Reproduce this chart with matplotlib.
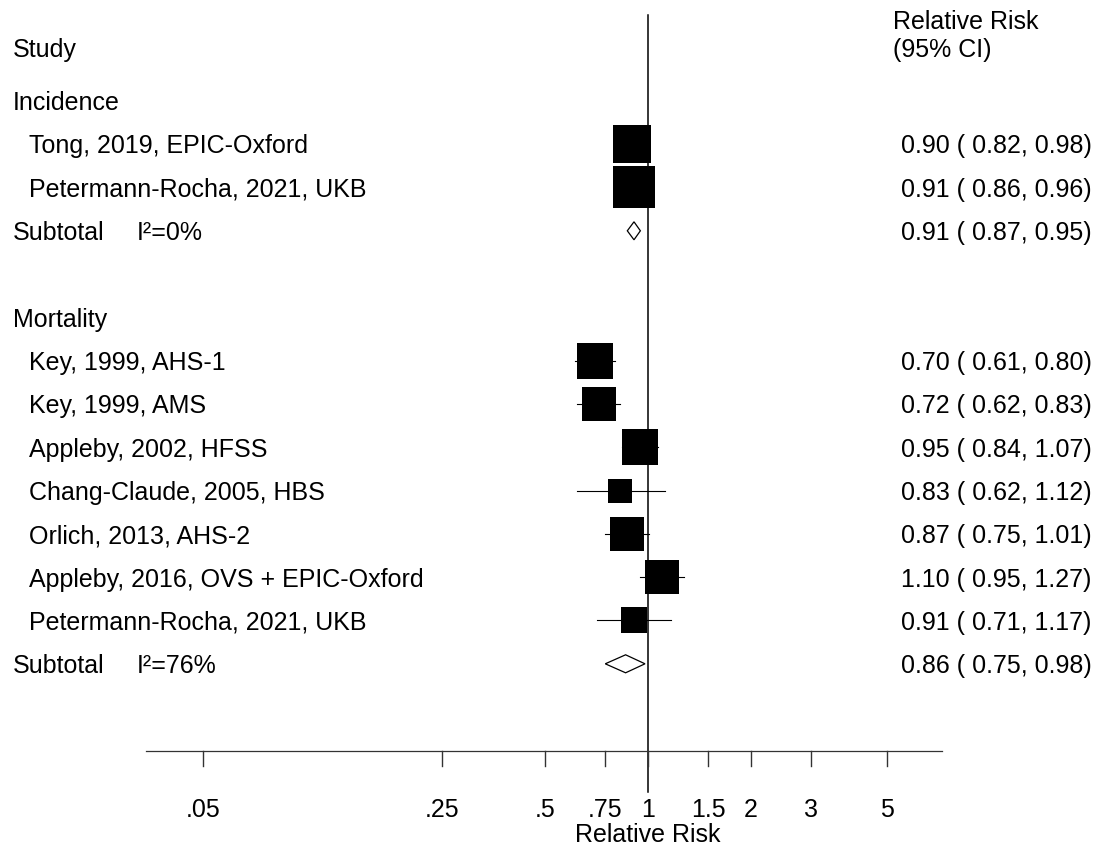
"""
Forest plot: relative risk by study, incidence and mortality subgroups.
"""
import numpy as np
import matplotlib.pyplot as plt

# ── data ───────────────────────────────────────────────────────────────────────
inc_studies = ["Tong, 2019, EPIC-Oxford", "Petermann-Rocha, 2021, UKB"]
inc_rr = [0.90, 0.91]
inc_lo = [0.82, 0.86]
inc_hi = [0.98, 0.96]
inc_w  = [88, 100]            # relative box area
inc_sub = (0.91, 0.87, 0.95)
inc_i2 = "0%"

mort_studies = ["Key, 1999, AHS-1", "Key, 1999, AMS", "Appleby, 2002, HFSS",
                "Chang-Claude, 2005, HBS", "Orlich, 2013, AHS-2",
                "Appleby, 2016, OVS + EPIC-Oxford", "Petermann-Rocha, 2021, UKB"]
mort_rr = [0.70, 0.72, 0.95, 0.83, 0.87, 1.10, 0.91]
mort_lo = [0.61, 0.62, 0.84, 0.62, 0.75, 0.95, 0.71]
mort_hi = [0.80, 0.83, 1.07, 1.12, 1.01, 1.27, 1.17]
mort_w  = [73, 69, 77, 32, 68, 71, 42]
mort_sub = (0.86, 0.75, 0.98)
mort_i2 = "76%"

tick_vals   = [0.05, 0.25, 0.5, 0.75, 1, 1.5, 2, 3, 5]
tick_labels = [".05", ".25", ".5", ".75", "1", "1.5", "2", "3", "5"]

# ── layout ─────────────────────────────────────────────────────────────────────
W, H, DPI = 1098, 850, 100
X_ONE, PX_DEC = 648.0, 342.0        # pixel of RR=1, pixels per decade
Y0, ROW = 100.9, 43.3               # pixel of row 0, pixels per row
MAX_BOX = 41.3                      # px side of largest box
FS = 18
BASE = 9.3 / ROW                    # baseline sits this far below row centre

plt.rcParams['font.family'] = ['Liberation Sans', 'DejaVu Sans']

fig = plt.figure(figsize=(W / DPI, H / DPI), dpi=DPI)
ax = fig.add_axes([0, 0, 1, 1])
ax.set_xscale('log')
ax.set_xlim(10 ** (-X_ONE / PX_DEC), 10 ** ((W - X_ONE) / PX_DEC))
ax.set_ylim((H - Y0) / ROW, -Y0 / ROW)
ax.axis('off')

ytr = ax.get_yaxis_transform()       # x in axes fraction, y in rows
def lbl(px, row, s, base=True, **kw):
    ax.text(px / W, row + (BASE if base else 0), s, transform=ytr,
            fontsize=FS, va='baseline', **kw)

fmt = lambda r, l, h: f"{r:.2f} ( {l:.2f}, {h:.2f})"
x_left, x_ind, x_i2, x_num = 13, 29, 137, 901

# ── headers ────────────────────────────────────────────────────────────────────
lbl(x_left, -1.007, "Study", base=False)
lbl(893, -1.66, "Relative Risk", base=False)
lbl(893, -1.007, "(95% CI)", base=False)

# null line
ax.plot([1, 1], [-1.98, 15.95], color='black', lw=1.1, zorder=1)


def draw_group(start, title, names, rr, lo, hi, w, sub, i2):
    lbl(x_left, start, title)
    for k, name in enumerate(names):
        row = start + 1 + k
        ax.plot([lo[k], hi[k]], [row, row], color='black', lw=0.8, zorder=2)
        side = MAX_BOX * np.sqrt(w[k] / 100) * 72 / DPI
        ax.scatter([rr[k]], [row], marker='s', s=side ** 2, color='black',
                   linewidths=0, zorder=3)
        lbl(x_ind, row, name)
        lbl(x_num, row, fmt(rr[k], lo[k], hi[k]))
    row = start + 1 + len(names)
    h = 9 / ROW
    r, l, u = sub
    ax.fill([l, r, u, r, l], [row, row - h, row, row + h, row],
            facecolor='white', edgecolor='black', lw=0.9, zorder=4)
    lbl(x_left, row, "Subtotal")
    lbl(x_i2, row, f"I²={i2}")
    lbl(x_num, row, fmt(*sub))


draw_group(0, "Incidence", inc_studies, inc_rr, inc_lo, inc_hi, inc_w, inc_sub, inc_i2)
draw_group(5, "Mortality", mort_studies, mort_rr, mort_lo, mort_hi, mort_w, mort_sub, mort_i2)

# ── x axis (drawn by hand, Stata style) ────────────────────────────────────────
AX_ROW = 15.01
ax.plot(10 ** ((np.array([146, 942]) - X_ONE) / PX_DEC), [AX_ROW, AX_ROW],
        color='#333333', lw=0.9, zorder=1)
for v, t in zip(tick_vals, tick_labels):
    ax.plot([v, v], [AX_ROW, AX_ROW + 15 / ROW], color='#333333', lw=1.0)
    ax.text(v, 16.54, t, fontsize=FS, ha='center', va='baseline')
ax.text(1, 17.11, "Relative Risk", fontsize=FS, ha='center', va='baseline')

fig.savefig('out.png', dpi=DPI)
